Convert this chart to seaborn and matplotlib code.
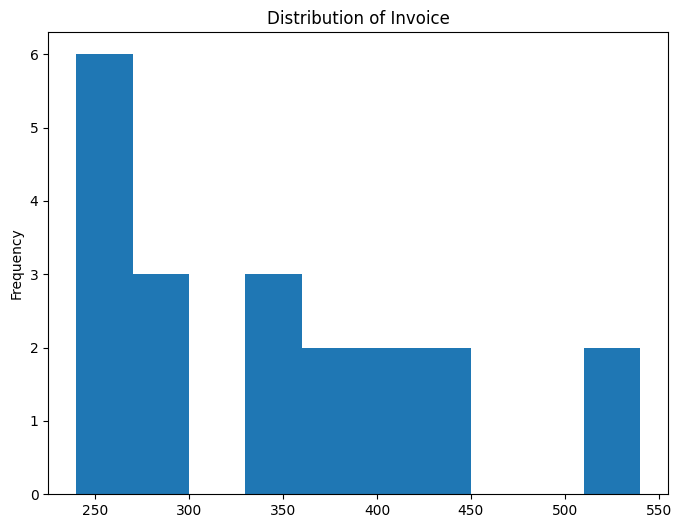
import numpy as np
import matplotlib
matplotlib.use('Agg')
import matplotlib.pyplot as plt
import seaborn as sns

# Invoice histogram: 10 bins of width 30 from 240 to 540
bin_edges = [240, 270, 300, 330, 360, 390, 420, 450, 480, 510, 540]
bin_counts = [6, 3, 0, 3, 2, 2, 2, 0, 0, 2]

bin_mids = [(a + b) / 2 for a, b in zip(bin_edges[:-1], bin_edges[1:])]

fig, ax = plt.subplots(figsize=(8, 6))
sns.histplot(x=bin_mids, weights=bin_counts, bins=bin_edges, ax=ax,
             color='#1f77b4', alpha=1, linewidth=0)
ax.set_title('Distribution of Invoice')
ax.set_ylabel('Frequency')
ax.set_xlabel('')
ax.set_yticks(range(0, 7))
ax.margins(x=0.05, y=0.05)
ax.set_ylim(0, 6.3)

plt.savefig('out.png', dpi=100, bbox_inches='tight')
